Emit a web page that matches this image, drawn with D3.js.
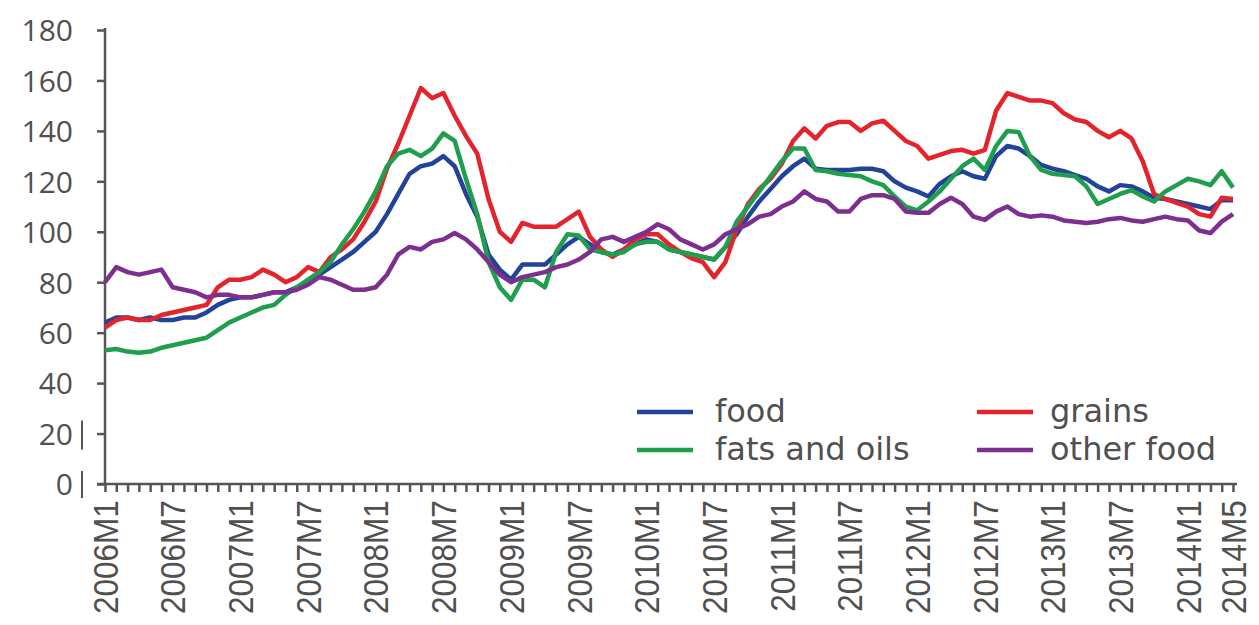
<!DOCTYPE html>
<html>
<head>
<meta charset="utf-8">
<script src="https://cdn.jsdelivr.net/npm/d3@7"></script>
<style>
  body { margin: 0; background: #fff; }
  svg { display: block; }
  .axis path, .axis line { stroke: #555; }
  .ylab text { font-family: "Open Sans", "Liberation Sans", sans-serif; font-size: 30px; fill: #505050; }
  .xlab text { font-family: "Liberation Sans", sans-serif; font-size: 35px; fill: #505050; }
  .legend text { font-family: "DejaVu Sans", sans-serif; font-size: 32px; fill: #505050; }
</style>
</head>
<body>
<svg></svg>
<script>
// monthly index, 2006M1 .. 2014M5 (101 months)
const labelIdx = [0, 6, 12, 18, 24, 30, 36, 42, 48, 54, 60, 66, 72, 78, 84, 90, 96, 100];
const labelText = ["2006M1", "2006M7", "2007M1", "2007M7", "2008M1", "2008M7", "2009M1", "2009M7",
  "2010M1", "2010M7", "2011M1", "2011M7", "2012M1", "2012M7", "2013M1", "2013M7", "2014M1", "2014M5"];
const yTicks = [0, 20, 40, 60, 80, 100, 120, 140, 160, 180];

const food = [64, 66, 66, 65, 66, 65, 65, 66, 66, 68, 71, 73, 74, 74, 75, 76, 76, 78, 80, 83,
  86, 89, 92, 96, 100, 107, 115, 123, 126, 127, 130, 126, 115, 106, 91, 85, 81, 87, 87, 87,
  91, 95, 98, 95, 92, 91, 93, 95, 97, 96, 93, 92, 91, 90, 89, 94, 99, 106, 112, 117,
  122, 126, 129, 125, 124.5, 124.5, 124.5, 125, 125, 124, 120, 117.5, 116, 114, 119, 122, 124, 122, 121, 130,
  134, 133, 130, 126.5, 125, 124, 122.5, 121, 118, 116, 118.5, 118, 116, 113.5, 113, 112, 111, 110, 109, 112.5,
  112.5];

const grains = [62, 65, 66, 65, 65, 67, 68, 69, 70, 71, 78, 81, 81, 82, 85, 83, 80, 82, 86, 84,
  90, 93, 97, 104, 112, 125, 135, 146, 157, 153, 155, 146, 138, 131, 113, 100, 96, 103.5, 102, 102,
  102, 105, 108, 98, 93, 90, 93, 97, 99, 99, 95, 92, 89.5, 88, 82, 88, 101, 111, 117, 121,
  127, 136, 141, 137, 142, 143.5, 143.5, 140, 143, 144, 140, 136, 134, 129, 130.5, 132, 132.5, 131, 132.5, 148,
  155, 153.5, 152, 152, 151, 147, 144.5, 143.5, 140, 137.5, 140, 137, 128, 115, 113, 111.5, 110, 107, 106, 113.5,
  113];

const fats = [53, 53.5, 52.5, 52, 52.5, 54, 55, 56, 57, 58, 61, 64, 66, 68, 70, 71, 75, 78, 81, 84,
  88, 95, 101, 108, 116, 126, 131, 132.5, 130, 133, 139, 136, 121, 107, 88, 78, 73, 81, 81, 78,
  92, 99, 98.5, 93, 92, 91, 92, 95, 96, 96, 93, 92, 91, 90, 89, 94, 104, 110, 116, 122,
  128, 133, 133, 124.5, 124, 123, 122.5, 122, 120, 118.5, 114, 110, 108.5, 112, 116, 121, 126, 129, 124.5, 134,
  140, 139.5, 130, 124.5, 123, 122.5, 122, 118, 111, 113, 115, 116.5, 114, 112, 116, 118.5, 121, 120, 118.5, 124,
  117.5];

const otherFood = [80, 86, 84, 83, 84, 85, 78, 77, 76, 74, 75, 75, 74, 74, 75, 76, 76, 77, 79, 82,
  81, 79, 77, 77, 78, 83, 91, 94, 93, 96, 97, 99.5, 97, 93, 88, 83, 80, 82, 83, 84,
  86, 87, 89, 92, 97, 98, 96, 98, 100, 103, 101, 97, 95, 93, 95, 99, 101, 103, 106, 107,
  110, 112, 116, 113, 112, 108, 108, 113, 114.5, 114.5, 113, 108, 107.5, 107.5, 111, 113.5, 111, 106, 104.7, 108,
  110, 107, 106, 106.5, 106, 104.5, 104, 103.5, 104, 105, 105.5, 104.5, 104, 105, 106, 105, 104.5, 100.5, 99.5, 104,
  107];

const seriesNames = ["food", "grains", "fats and oils", "other food"];
const seriesColors = ["#23439b", "#e4242c", "#1f9f4d", "#7d2f8f"];
const seriesData = [food, grains, fats, otherFood];

const width = 1259;
const height = 625;

const svg = d3.select("svg").attr("width", width).attr("height", height);

const x = d3.scaleLinear().domain([0, 100]).range([105, 1233]);
const y = d3.scaleLinear().domain([0, 180]).range([484, 30]);

// y axis
const yAxis = d3.axisLeft(y).tickValues(yTicks).tickSize(8).tickPadding(24).tickSizeOuter(0);
const gy = svg.append("g")
  .attr("class", "axis ylab")
  .attr("transform", `translate(${x(0)}, 0)`)
  .call(yAxis);
gy.select(".domain").attr("stroke-width", 2.5).attr("d", `M0,${y(180) - 2}V${y(0)}`);
gy.selectAll("line").attr("stroke-width", 2.5);
gy.selectAll("text").attr("dy", "0.36em");

// stray bars next to the 20 and 0 labels
gy.selectAll(".stray")
  .data([20, 0])
  .enter()
  .append("line")
  .attr("x1", -23).attr("x2", -23)
  .attr("y1", (d) => y(d) - 13)
  .attr("y2", (d) => y(d) + (d === 0 ? 14 : 16))
  .attr("stroke", "#777")
  .attr("stroke-width", 2);

// x axis
const labelMap = new Map(labelIdx.map((d, i) => [d, labelText[i]]));
const xAxis = d3.axisBottom(x)
  .tickValues(d3.range(0, 101))
  .tickSize(8)
  .tickSizeOuter(0)
  .tickFormat((d) => labelMap.get(d) || "");
const gx = svg.append("g")
  .attr("class", "axis xlab")
  .attr("transform", `translate(0, ${y(0)})`)
  .call(xAxis);
gx.select(".domain").attr("stroke-width", 2.5).attr("d", `M${x(0) - 8},0H${x(100) + 4}`);
gx.selectAll("line").attr("stroke-width", 2.5);
gx.selectAll("text")
  .attr("transform", "rotate(-90) scale(0.9, 1)")
  .attr("text-anchor", "end")
  .attr("x", -18)
  .attr("y", 0)
  .attr("dy", "0.35em");

// lines
const line = d3.line()
  .x((d, i) => x(i))
  .y((d) => y(d));

svg.append("g")
  .selectAll("path")
  .data(seriesData)
  .enter()
  .append("path")
  .attr("d", line)
  .attr("fill", "none")
  .attr("stroke", (d, i) => seriesColors[i])
  .attr("stroke-width", 4.5)
  .attr("stroke-linejoin", "round");

// legend, two columns: [line x, line y, text offset]
const legendPos = [[637, 412, 78], [977, 412, 73], [637, 450, 78], [977, 450, 73]];
const legend = svg.append("g").attr("class", "legend");
const items = legend.selectAll("g")
  .data(seriesNames)
  .enter()
  .append("g")
  .attr("transform", (d, i) => `translate(${legendPos[i][0]}, ${legendPos[i][1]})`);
items.append("line")
  .attr("x1", 0).attr("x2", 56)
  .attr("stroke", (d, i) => seriesColors[i])
  .attr("stroke-width", 4.5);
items.append("text")
  .attr("x", (d, i) => legendPos[i][2])
  .attr("dy", "0.32em")
  .text((d) => d);
</script>
</body>
</html>
